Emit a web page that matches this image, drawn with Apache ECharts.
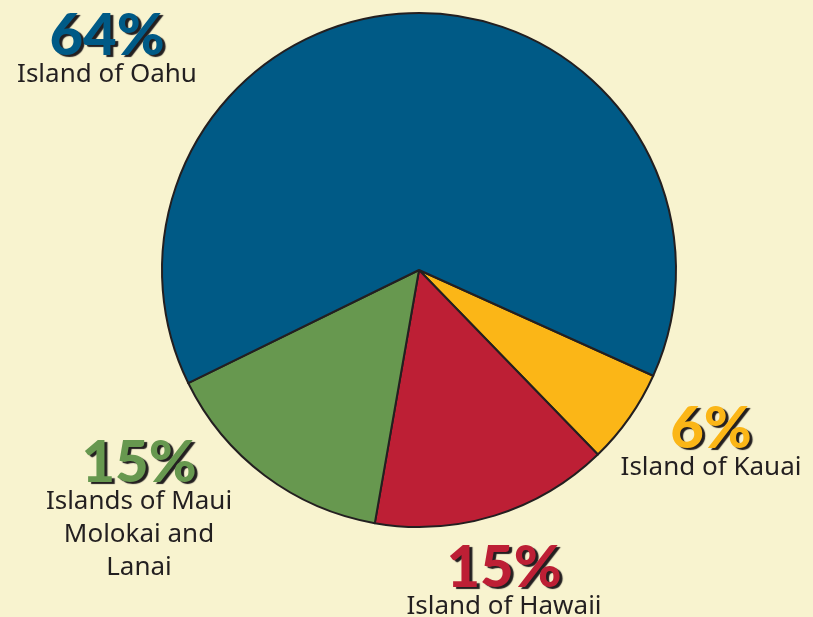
<!DOCTYPE html>
<html>
<head>
    <meta charset="utf-8">
    <title>Hawaii islands pie</title>
    <script src="https://cdn.jsdelivr.net/npm/echarts@6/dist/echarts.min.js"></script>
    <style>
        html, body { margin: 0; padding: 0; background: #f8f3cf; }
        #chart { width: 813px; height: 617px; }
    </style>
</head>
<body>
    <div id="chart"></div>
<script type="text/javascript">
    // data, in drawing order (clockwise from the Kauai/Oahu edge)
    var islands = ['Island of Kauai', 'Island of Hawaii', 'Islands of Maui\nMolokai and\nLanai', 'Island of Oahu'];
    var shares = [6, 15, 15, 64];
    var colors = ['#fbb617', '#bd1f35', '#67984f', '#005a86'];

    // where each label block sits (center x, top y)
    var labelSpots = [[711, 407], [504, 546], [139, 441], [107, 14]];

    var myChart = echarts.init(document.getElementById('chart'));

    var data = [];
    for (var i = 0; i < shares.length; i++) {
        data.push({
            value: shares[i],
            name: islands[i],
            itemStyle: { color: colors[i] },
            label: { rich: { p: { color: colors[i] } } }
        });
    }

    var option = {
        backgroundColor: '#f8f3cf',
        animation: false,
        series: [{
            type: 'pie',
            center: [419, 270],
            radius: 257,
            startAngle: -24.3,
            clockwise: true,
            avoidLabelOverlap: false,
            itemStyle: {
                borderColor: '#231f20',
                borderWidth: 2
            },
            labelLine: { show: false },
            label: {
                show: true,
                position: 'outside',
                formatter: function(p) {
                    return '{p|' + p.value + '%}\n{n|' + p.name + '}';
                },
                rich: {
                    p: {
                        fontFamily: 'Lato',
                        fontWeight: 900,
                        fontSize: 58,
                        lineHeight: 44,
                        align: 'center',
                        textShadowColor: '#231f20',
                        textShadowOffsetX: 3,
                        textShadowOffsetY: 2,
                        textShadowBlur: 1
                    },
                    n: {
                        fontFamily: 'Noto Sans',
                        fontSize: 26,
                        lineHeight: 33,
                        color: '#231f20',
                        align: 'center'
                    }
                }
            },
            labelLayout: function(params) {
                var s = labelSpots[params.dataIndex];
                return {
                    x: s[0],
                    y: s[1],
                    align: 'center',
                    verticalAlign: 'top'
                };
            },
            data: data
        }]
    };
    myChart.setOption(option);
</script>
</body>
</html>
